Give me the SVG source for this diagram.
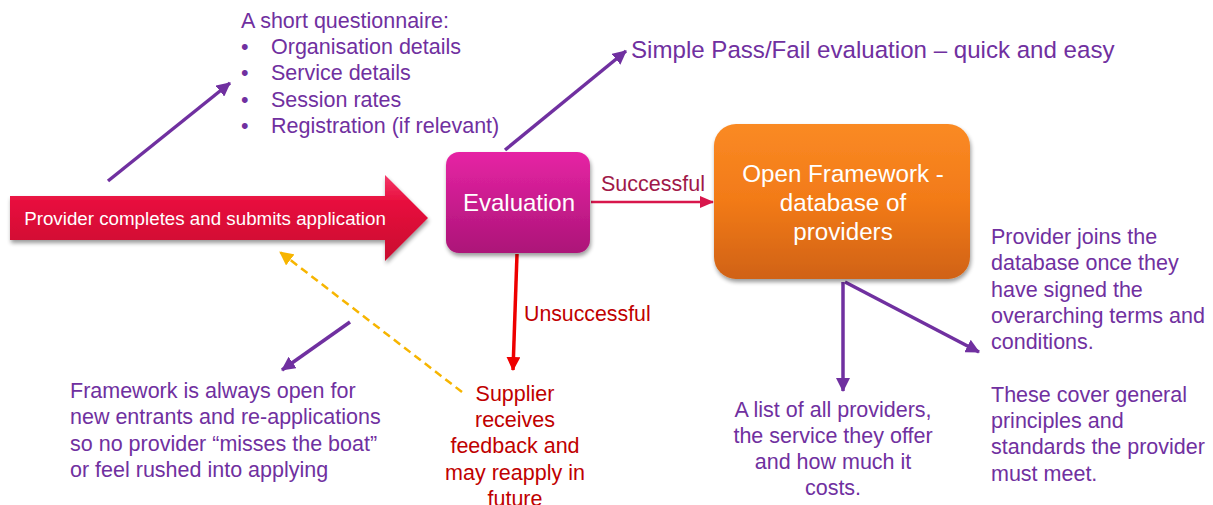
<svg xmlns="http://www.w3.org/2000/svg" width="1213" height="505" viewBox="0 0 1213 505">
<style>
text{font-family:"Liberation Sans",Arial,sans-serif}
.p{fill:#7030a0;font-size:21.5px}
.r{fill:#c00000;font-size:21.5px}
.w{fill:#fff}
.pl{stroke:#7030a0;stroke-width:3.5;fill:none}
</style>
<defs>
<linearGradient id="gRed" x1="0" y1="0" x2="0" y2="1">
<stop offset="0" stop-color="#f4386a"/><stop offset="0.3" stop-color="#e8103e"/><stop offset="1" stop-color="#c8082e"/>
</linearGradient>
<linearGradient id="gMag" x1="0" y1="0" x2="0" y2="1">
<stop offset="0" stop-color="#e624a4"/><stop offset="1" stop-color="#ac1478"/>
</linearGradient>
<linearGradient id="gOr" x1="0" y1="0" x2="0" y2="1">
<stop offset="0" stop-color="#fa8a24"/><stop offset="0.5" stop-color="#f27a18"/><stop offset="1" stop-color="#d06212"/>
</linearGradient>
<filter id="sh" x="-10%" y="-10%" width="130%" height="130%">
<feGaussianBlur in="SourceAlpha" stdDeviation="2"/><feOffset dx="1" dy="3"/>
<feComponentTransfer><feFuncA type="linear" slope="0.4"/></feComponentTransfer>
<feMerge><feMergeNode/><feMergeNode in="SourceGraphic"/></feMerge>
</filter>
<marker id="aP" markerUnits="userSpaceOnUse" markerWidth="16" markerHeight="14" refX="13" refY="7" orient="auto"><path d="M0,0 L14,7 L0,14 Z" fill="#7030a0"/></marker>
<marker id="aR" markerUnits="userSpaceOnUse" markerWidth="16" markerHeight="14" refX="13" refY="7" orient="auto"><path d="M0,0 L14,7 L0,14 Z" fill="#ee0000"/></marker>
<marker id="aC" markerUnits="userSpaceOnUse" markerWidth="16" markerHeight="14" refX="13" refY="7" orient="auto"><path d="M0,1 L14,7 L0,13 Z" fill="#d8164c"/></marker>
<marker id="aY" markerUnits="userSpaceOnUse" markerWidth="16" markerHeight="14" refX="13" refY="7" orient="auto"><path d="M0,0 L14,7 L0,14 Z" fill="#f7b500"/></marker>
</defs>

<g id="connectors">
<line class="pl" x1="108" y1="181" x2="230" y2="83" marker-end="url(#aP)"/>
<line class="pl" x1="505" y1="150" x2="626" y2="51" marker-end="url(#aP)"/>
<line class="pl" x1="350" y1="322" x2="282" y2="370" marker-end="url(#aP)"/>
<line class="pl" x1="843" y1="282" x2="843" y2="391" marker-end="url(#aP)"/>
<line class="pl" x1="845" y1="282" x2="979" y2="352" marker-end="url(#aP)"/>
<line x1="591" y1="202" x2="713" y2="202" stroke="#d8164c" stroke-width="2.5" marker-end="url(#aC)"/>
<line x1="517" y1="254" x2="513" y2="370" stroke="#ee0000" stroke-width="3.5" marker-end="url(#aR)"/>
<line x1="462" y1="392" x2="280" y2="252" stroke="#f7b500" stroke-width="2.5" stroke-dasharray="8,5" marker-end="url(#aY)"/>
<text x="601" y="191" style="fill:#a01848;font-size:21.5px">Successful</text>
<text x="524" y="321" class="r" style="font-size:21.3px">Unsuccessful</text>
</g>

<g id="submit">
<path d="M10,196 L385,196 L385,175 L428,218 L385,261 L385,240 L10,240 Z" fill="url(#gRed)" filter="url(#sh)"/>
<text x="205" y="225" text-anchor="middle" class="w" style="font-size:18.75px">Provider completes and submits application</text>
</g>

<g id="evaluation">
<rect x="446" y="152" width="144" height="101" rx="13" fill="url(#gMag)" filter="url(#sh)"/>
<text x="519" y="211" text-anchor="middle" class="w" style="font-size:24px">Evaluation</text>
</g>

<g id="framework">
<rect x="714" y="124" width="256" height="155" rx="22" fill="url(#gOr)" filter="url(#sh)"/>
<text text-anchor="middle" class="w" style="font-size:24.2px"><tspan x="843" y="182">Open Framework -</tspan><tspan x="843" y="211">database of</tspan><tspan x="843" y="240">providers</tspan></text>
</g>

<g id="questionnaire">
<text class="p"><tspan x="241" y="28">A short questionnaire:</tspan></text>
<text class="p"><tspan x="241" y="54">•</tspan><tspan x="271" y="54">Organisation details</tspan><tspan x="241" y="80">•</tspan><tspan x="271" y="80">Service details</tspan><tspan x="241" y="107">•</tspan><tspan x="271" y="107">Session rates</tspan><tspan x="241" y="133">•</tspan><tspan x="271" y="133">Registration (if relevant)</tspan></text>
</g>

<g id="passfail">
<text x="631" y="58" class="p" style="font-size:24.1px">Simple Pass/Fail evaluation – quick and easy</text>
</g>

<g id="open-note">
<text class="p"><tspan x="70" y="398">Framework is always open for</tspan><tspan x="70" y="424">new entrants and re-applications</tspan><tspan x="70" y="451">so no provider “misses the boat”</tspan><tspan x="70" y="477">or feel rushed into applying</tspan></text>
</g>

<g id="supplier">
<text class="r" text-anchor="middle"><tspan x="515" y="401">Supplier</tspan><tspan x="515" y="427">receives</tspan><tspan x="515" y="453">feedback and</tspan><tspan x="515" y="480">may reapply in</tspan><tspan x="515" y="506">future</tspan></text>
</g>

<g id="list-note">
<text class="p" text-anchor="middle"><tspan x="833" y="417">A list of all providers,</tspan><tspan x="833" y="443">the service they offer</tspan><tspan x="833" y="469">and how much it</tspan><tspan x="833" y="495">costs.</tspan></text>
</g>

<g id="terms-note">
<text class="p"><tspan x="991" y="244">Provider joins the</tspan><tspan x="991" y="270">database once they</tspan><tspan x="991" y="297">have signed the</tspan><tspan x="991" y="323">overarching terms and</tspan><tspan x="991" y="349">conditions.</tspan><tspan x="991" y="402">These cover general</tspan><tspan x="991" y="428">principles and</tspan><tspan x="991" y="454">standards the provider</tspan><tspan x="991" y="481">must meet.</tspan></text>
</g>
</svg>
